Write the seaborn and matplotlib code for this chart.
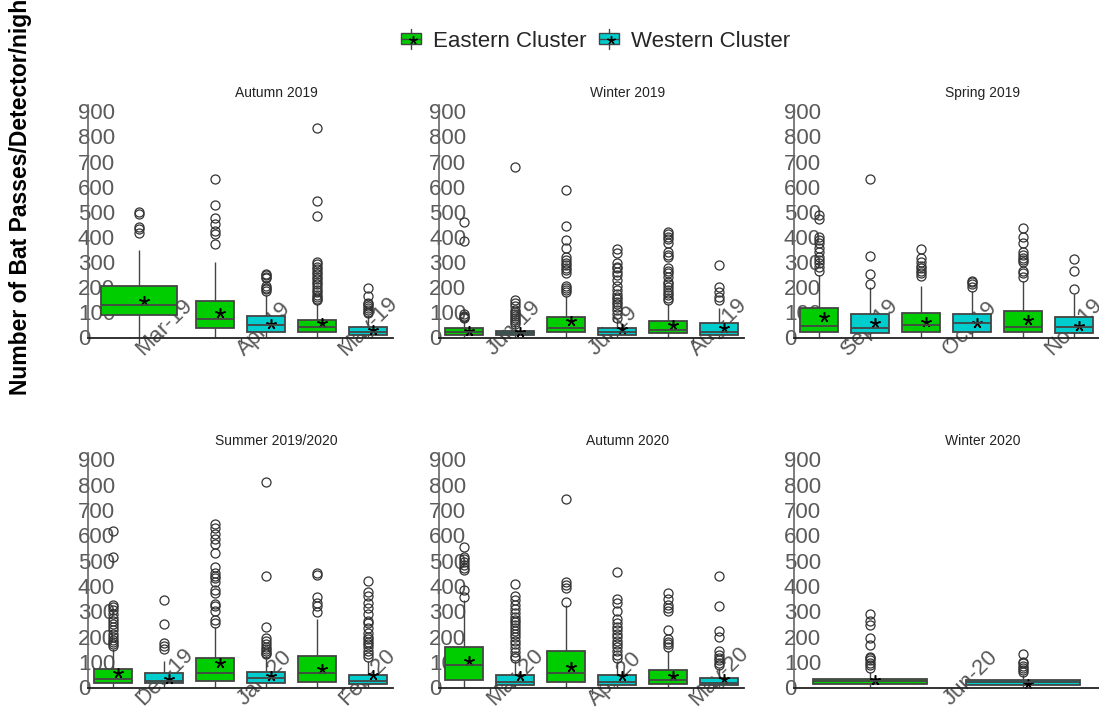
import numpy as np
import pandas as pd
import matplotlib
matplotlib.use("Agg")
import matplotlib.pyplot as plt
import matplotlib.transforms as mtransforms
from matplotlib.patches import Patch, Rectangle
from matplotlib.lines import Line2D
from matplotlib.legend_handler import HandlerBase
import seaborn as sns

# ---- data ----
seasons = ['Autumn 2019', 'Winter 2019', 'Spring 2019',
           'Summer 2019/2020', 'Autumn 2020', 'Winter 2020']
season_months = [['Mar-19', 'Apr-19', 'May-19'],
                 ['Jun-19', 'Jul-19', 'Aug-19'],
                 ['Sep-19', 'Oct-19', 'Nov-19'],
                 ['Dec-19', 'Jan-20', 'Feb-20'],
                 ['Mar-20', 'Apr-20', 'May-20'],
                 ['Jun-20']]
clusters = ['Eastern Cluster', 'Western Cluster']

box_season = [0, 0, 0, 0, 0,
              1, 1, 1, 1, 1, 1,
              2, 2, 2, 2, 2, 2,
              3, 3, 3, 3, 3, 3,
              4, 4, 4, 4, 4, 4,
              5, 5]
box_month = ['Mar-19', 'Apr-19', 'Apr-19', 'May-19', 'May-19',
             'Jun-19', 'Jun-19', 'Jul-19', 'Jul-19', 'Aug-19', 'Aug-19',
             'Sep-19', 'Sep-19', 'Oct-19', 'Oct-19', 'Nov-19', 'Nov-19',
             'Dec-19', 'Dec-19', 'Jan-20', 'Jan-20', 'Feb-20', 'Feb-20',
             'Mar-20', 'Mar-20', 'Apr-20', 'Apr-20', 'May-20', 'May-20',
             'Jun-20', 'Jun-20']
box_cluster = ['E', 'E', 'W', 'E', 'W',
               'E', 'W', 'E', 'W', 'E', 'W',
               'E', 'W', 'E', 'W', 'E', 'W',
               'E', 'W', 'E', 'W', 'E', 'W',
               'E', 'W', 'E', 'W', 'E', 'W',
               'E', 'W']
box_q1 = [89, 39, 21, 20, 10,
          10, 10, 21, 10, 17, 10,
          21, 17, 23, 23, 21, 17,
          16, 16, 25, 16, 21, 12,
          31, 9, 22, 9, 12, 9,
          12, 9]
box_med = [129, 72, 50, 40, 23,
           23, 19, 36, 23, 30, 23,
           47, 36, 50, 56, 43, 43,
           34, 25, 57, 38, 57, 25,
           87, 22, 57, 22, 31, 18,
           25, 20]
box_q3 = [206, 146, 85, 69, 43,
          36, 27, 80, 36, 66, 56,
          116, 92, 99, 92, 107, 83,
          73, 57, 115, 61, 123, 51,
          159, 51, 145, 51, 70, 38,
          34, 29]
box_whisker_hi = [348, 300, 170, 135, 88,
                  65, 50, 165, 70, 135, 116,
                  250, 200, 205, 185, 225, 175,
                  150, 105, 240, 125, 272, 105,
                  345, 105, 325, 105, 145, 75,
                  62, 50]
box_mean = [145, 96, 54, 59, 30,
            27, 23, 66, 32, 50, 36,
            83, 56, 63, 56, 70, 47,
            57, 34, 97, 44, 73, 48,
            103, 44, 80, 44, 44, 33,
            31, 12]
box_outliers = [
    [415, 430, 440, 490, 500],
    [370, 411, 424, 451, 476, 526, 629],
    [185, 192, 198, 206, 236, 242, 248, 252],
    [148, 155, 162, 170, 182, 190, 202, 212, 222, 232, 242, 252, 262, 272,
     281, 291, 301, 483, 542, 834],
    [96, 103, 110, 118, 125, 132, 138, 165, 195],
    [78, 82, 86, 92, 385, 460],
    [55, 62, 70, 78, 85, 92, 100, 110, 125, 138, 148, 679],
    [180, 190, 198, 205, 258, 268, 278, 288, 298, 310, 322, 355, 388, 443, 586],
    [78, 95, 108, 120, 132, 142, 152, 162, 175, 190, 205, 228, 248, 262, 275,
     282, 295, 335, 352],
    [150, 158, 168, 178, 190, 202, 212, 222, 240, 255, 265, 275, 322, 330,
     342, 375, 390, 400, 410, 420],
    [150, 162, 182, 202, 288],
    [265, 280, 295, 308, 320, 342, 355, 375, 388, 398, 470, 488],
    [213, 252, 325, 632],
    [245, 255, 265, 275, 285, 300, 315, 354],
    [200, 212, 222, 225],
    [240, 255, 265, 300, 308, 318, 330, 342, 375, 400, 434],
    [192, 266, 311],
    [162, 170, 178, 188, 200, 212, 225, 240, 252, 262, 275, 290, 305, 318,
     325, 515, 618],
    [152, 165, 175, 249, 347],
    [255, 268, 300, 322, 330, 372, 385, 418, 430, 440, 450, 475, 530, 566,
     586, 605, 631, 644],
    [132, 138, 145, 152, 160, 172, 185, 195, 240, 440, 810],
    [298, 320, 332, 358, 442, 452],
    [120, 132, 145, 158, 170, 180, 190, 200, 215, 235, 255, 262, 290, 315,
     335, 360, 375, 420],
    [358, 385, 462, 472, 485, 495, 505, 515, 553],
    [115, 125, 140, 155, 170, 185, 198, 210, 222, 235, 248, 258, 268, 280,
     295, 310, 325, 345, 362, 410],
    [338, 392, 405, 418, 745],
    [118, 130, 145, 158, 170, 185, 198, 210, 225, 240, 255, 270, 300, 335,
     350, 455],
    [160, 170, 180, 190, 228, 300, 312, 325, 350, 372],
    [88, 98, 108, 118, 130, 142, 198, 223, 321, 440],
    [78, 88, 98, 108, 118, 122, 168, 194, 248, 262, 290],
    [62, 70, 78, 86, 95, 102, 133],
]
box_whisker_lo = 0

green = '#00CD00'
cyan = '#00CDCD'
palette = {'Eastern Cluster': green, 'Western Cluster': cyan}
cluster_name = {'E': 'Eastern Cluster', 'W': 'Western Cluster'}


def box_sample(lo, q1, med, q3, hi, outs):
    # raw points whose quartiles / whiskers / fliers match the read values
    m = len(outs) + 1
    return [lo] * m + [q1] * m + [med] * m + [q3] + [hi] + list(outs)


rows = []
mean_rows = []
for i in range(len(box_month)):
    s = seasons[box_season[i]]
    c = cluster_name[box_cluster[i]]
    for v in box_sample(box_whisker_lo, box_q1[i], box_med[i], box_q3[i],
                        box_whisker_hi[i], box_outliers[i]):
        rows.append((s, box_month[i], c, v))
    mean_rows.append((s, box_month[i], c, box_mean[i]))
df = pd.DataFrame(rows, columns=['season', 'month', 'cluster', 'value'])
df_mean = pd.DataFrame(mean_rows, columns=['season', 'month', 'cluster', 'mean'])

# ---- style ----
sns.set_theme(style='white')
plt.rcParams['font.family'] = ['Liberation Sans', 'DejaVu Sans']

edge = '#444444'
grey_txt = '#5a5a5a'
box_kws = dict(linecolor=edge, linewidth=1.3, showcaps=False, saturation=1,
               fliersize=6.5, legend=False,
               flierprops=dict(marker='o', markerfacecolor='none',
                               markeredgecolor='#333333', markeredgewidth=0.9),
               whiskerprops=dict(color=edge, linewidth=1.0),
               medianprops=dict(color=edge, linewidth=1.3))
mean_kws = dict(errorbar=None, linestyle='none', marker=(5, 2, 0),
                markersize=7.5, markeredgewidth=1.1, legend=False)

W, H = 1099, 708
fig = plt.figure(figsize=(W / 100, H / 100), dpi=100)
fig.patch.set_facecolor('white')

lefts = [88, 439, 794]
panel_w = 305
row_box = [(105, 338), (453, 688)]
star_shift = mtransforms.ScaledTranslation(5 / 100, 0, fig.dpi_scale_trans)

for k, season in enumerate(seasons):
    r, c = divmod(k, 3)
    top, bot = row_box[r]
    ax = fig.add_axes([lefts[c] / W, 1 - bot / H, panel_w / W, (bot - top) / H])
    months = season_months[k]

    sub = df[df.season == season]
    sub_mean = df_mean[df_mean.season == season]
    n_cl = sub_mean.groupby('month')['cluster'].nunique()
    paired = sub[sub.month.map(n_cl) == 2]
    paired_mean = sub_mean[sub_mean.month.map(n_cl) == 2]
    single = sub[sub.month.map(n_cl) == 1]
    single_mean = sub_mean[sub_mean.month.map(n_cl) == 1]

    if len(paired):
        sns.boxplot(data=paired, x='month', y='value', hue='cluster',
                    order=months, hue_order=clusters, palette=palette,
                    width=1.0, gap=0.25, ax=ax, **box_kws)
    for cl, grp in single.groupby('cluster'):
        sns.boxplot(data=grp, x='month', y='value', order=months,
                    color=palette[cl], width=0.75, ax=ax, **box_kws)

    n0 = len(ax.lines)
    if len(paired_mean):
        sns.pointplot(data=paired_mean, x='month', y='mean', hue='cluster',
                      order=months, hue_order=clusters,
                      palette={cl: 'black' for cl in clusters}, dodge=0.5,
                      ax=ax, **mean_kws)
    if len(single_mean):
        sns.pointplot(data=single_mean, x='month', y='mean', order=months,
                      color='black', ax=ax, **mean_kws)
    for ln in ax.lines[n0:]:
        ln.set_transform(ln.get_transform() + star_shift)

    ax.set_xlim(-0.5, len(months) - 0.5)
    ax.set_ylim(-2, 925)
    ax.set_yticks(range(0, 1000, 100))
    ax.set_xticks(range(len(months)))
    ax.set_xticklabels(months, rotation=45, ha='left', va='center',
                       rotation_mode='anchor')
    ax.set_xlabel('')
    ax.set_ylabel('')
    for lab in ax.get_yticklabels():
        lab.set_horizontalalignment('left')
    ax.tick_params(axis='y', left=False, length=0, pad=7.2,
                   labelsize=16, labelcolor=grey_txt)
    ax.tick_params(axis='x', bottom=True, length=4, width=1, color=edge,
                   direction='out', pad=6.5, labelsize=16, labelcolor=grey_txt)
    sns.despine(ax=ax)
    ax.spines['left'].set_color('#666666')
    ax.spines['left'].set_linewidth(1.2)
    ax.spines['bottom'].set_color('#222222')
    ax.spines['bottom'].set_linewidth(1.3)
    ax.set_title(season, fontsize=10, color='#222222', x=0.618, pad=6)
    ax.patch.set_alpha(0)


class BoxHandler(HandlerBase):
    def create_artists(self, legend, orig_handle, xdescent, ydescent,
                       width, height, fontsize, trans):
        x0, y0 = -xdescent, -ydescent
        cx = x0 + width / 2
        box = Rectangle((x0, y0 + 0.15 * height), width, 0.7 * height,
                        facecolor=orig_handle.get_facecolor(), edgecolor=edge,
                        linewidth=1.0, transform=trans)
        wt = Line2D([cx, cx], [y0 + 0.85 * height, y0 + 1.15 * height],
                    color=edge, linewidth=1.0, transform=trans)
        wb = Line2D([cx, cx], [y0 - 0.15 * height, y0 + 0.15 * height],
                    color=edge, linewidth=1.0, transform=trans)
        med = Line2D([x0, x0 + width], [y0 + 0.5 * height] * 2,
                     color=edge, linewidth=1.0, transform=trans)
        star = Line2D([cx + 1.5], [y0 + 0.4 * height], marker=(5, 2, 0),
                      color='black', markersize=6, markeredgewidth=1.0,
                      linestyle='none', transform=trans)
        return [box, wt, wb, med, star]


handles = [Patch(facecolor=palette[cl], label=cl) for cl in clusters]
fig.legend(handles=handles, loc='center', bbox_to_anchor=(0.542, 0.942),
           ncol=2, frameon=False, fontsize=16, handlelength=0.9,
           handleheight=0.7, handletextpad=0.55, columnspacing=0.55,
           handler_map={Patch: BoxHandler()})

fig.text(21 / W, 1 - 395 / H, 'Number of Bat Passes/Detector/night',
         rotation=90, ha='center', va='bottom', fontsize=16.5,
         fontweight='bold', color='black')

fig.savefig('out.png', dpi=100)
